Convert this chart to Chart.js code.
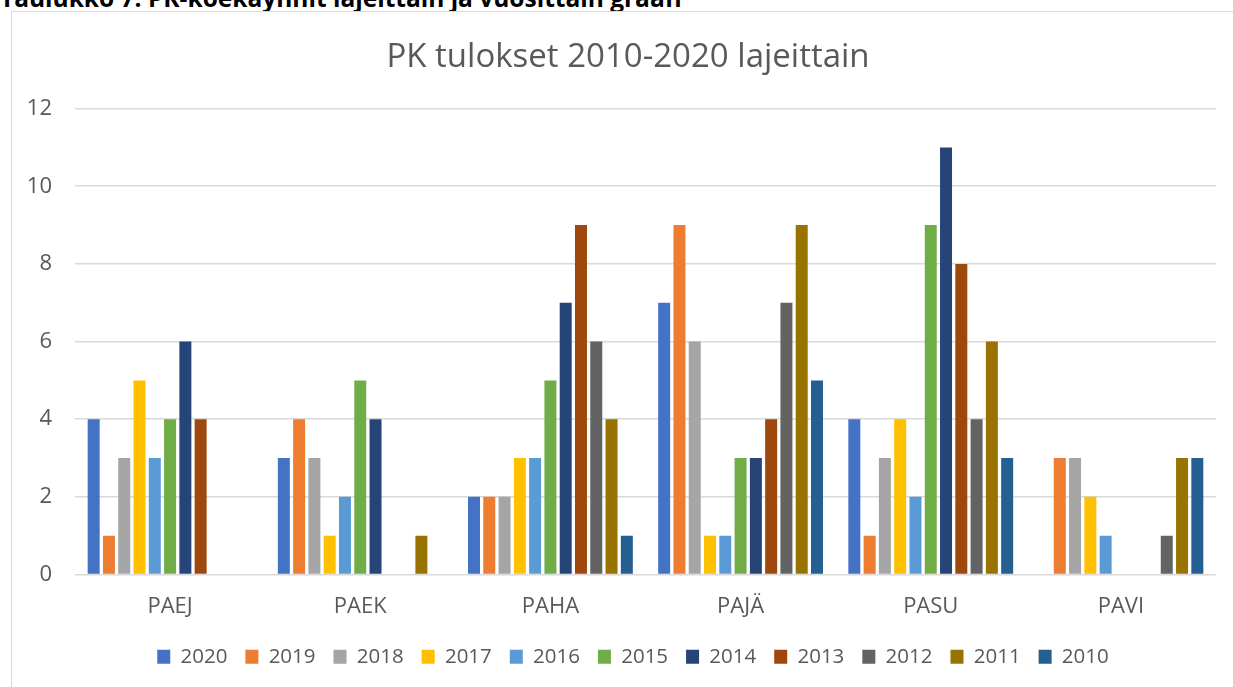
<!DOCTYPE html>
<html>
<head>
<meta charset="utf-8">
<script src="https://cdn.jsdelivr.net/npm/chart.js@4"></script>
<style>
  html, body { margin: 0; padding: 0; background: #fff; overflow: hidden; width: 1233px; height: 687px; }
  #heading { position: absolute; left: 0; top: -14px; font: bold 24.5px "Open Sans", sans-serif; color: #000; white-space: nowrap; line-height: 1; }
  #box { position: absolute; left: 11px; top: 11px; width: 1234px; height: 700px; border: 1px solid #d9d9d9; background: #fff; }
  #myChart { display: block; }
</style>
</head>
<body>
<div id="heading">Taulukko 7. PK-koekäynnit lajeittain ja vuosittain graafi</div>
<div id="box"><canvas id="myChart" width="1234" height="675"></canvas></div>
<script>
// lajit (categories on the x axis)
const categories = ['PAEJ', 'PAEK', 'PAHA', 'PAJÄ', 'PASU', 'PAVI'];
// years, in legend order
const years = ['2020', '2019', '2018', '2017', '2016', '2015', '2014', '2013', '2012', '2011', '2010'];
// results per year, one value per laji
const v2020 = [4, 3, 2, 7, 4, 0];
const v2019 = [1, 4, 2, 9, 1, 3];
const v2018 = [3, 3, 2, 6, 3, 3];
const v2017 = [5, 1, 3, 1, 4, 2];
const v2016 = [3, 2, 3, 1, 2, 1];
const v2015 = [4, 5, 5, 3, 9, 0];
const v2014 = [6, 4, 7, 3, 11, 0];
const v2013 = [4, 0, 9, 4, 8, 0];
const v2012 = [0, 0, 6, 7, 4, 1];
const v2011 = [0, 1, 4, 9, 6, 3];
const v2010 = [0, 0, 1, 5, 3, 3];
const yTicks = [0, 2, 4, 6, 8, 10, 12];

const seriesValues = [v2020, v2019, v2018, v2017, v2016, v2015, v2014, v2013, v2012, v2011, v2010];
// office colours
const colors = ['#4472C4', '#ED7D31', '#A5A5A5', '#FFC000', '#5B9BD5', '#70AD47',
                '#264478', '#9E480E', '#636363', '#997300', '#255E91'];

const textColor = '#595959';
const fontFamily = '"Open Sans", sans-serif';

// excel centres title and legend on the whole chart box, not on the plot,
// so nudge them a bit to the right after layout
const centreShift = {
    id: 'centreShift',
    afterLayout(chart) {
        chart.titleBlock.left += 14;
        chart.titleBlock.right += 14;
        chart.legend.left += 19;
        chart.legend.right += 19;
    }
};

function createChart() {
    const ctx = document.getElementById('myChart').getContext('2d');
    const datasets = years.map((y, i) => ({
        label: y,
        data: seriesValues[i],
        backgroundColor: colors[i],
        borderWidth: 0,
        barPercentage: 0.785,
        categoryPercentage: 0.884
    }));

    new Chart(ctx, {
        type: 'bar',
        data: { labels: categories, datasets: datasets },
        plugins: [centreShift],
        options: {
            responsive: false,
            animation: false,
            layout: { padding: { left: 0, right: 30, top: 0, bottom: 10 } },
            plugins: {
                title: {
                    display: true,
                    text: 'PK tulokset 2010-2020 lajeittain',
                    color: textColor,
                    font: { family: fontFamily, size: 33, weight: 'normal' },
                    padding: { top: 26, bottom: 31 }
                },
                legend: {
                    position: 'bottom',
                    labels: {
                        color: textColor,
                        font: { family: fontFamily, size: 20.5 },
                        boxWidth: 13,
                        boxHeight: 14,
                        padding: 18
                    }
                },
                tooltip: { enabled: false }
            },
            scales: {
                x: {
                    grid: { display: false },
                    border: { display: false },
                    ticks: {
                        color: textColor,
                        font: { family: fontFamily, size: 22 },
                        padding: 11
                    },
                    afterFit: function(scale) { scale.height = 54; }
                },
                y: {
                    min: 0,
                    max: 12,
                    afterBuildTicks: function(scale) { scale.ticks = yTicks.map(v => ({ value: v })); },
                    grid: { color: '#d9d9d9', lineWidth: 1.5, drawTicks: false },
                    border: { display: false },
                    ticks: {
                        color: textColor,
                        font: { family: fontFamily, size: 22 },
                        padding: 23
                    },
                    afterFit: function(scale) { scale.width = 63; }
                }
            }
        }
    });
}

document.addEventListener("DOMContentLoaded", function() {
    createChart();
});
</script>
</body>
</html>
